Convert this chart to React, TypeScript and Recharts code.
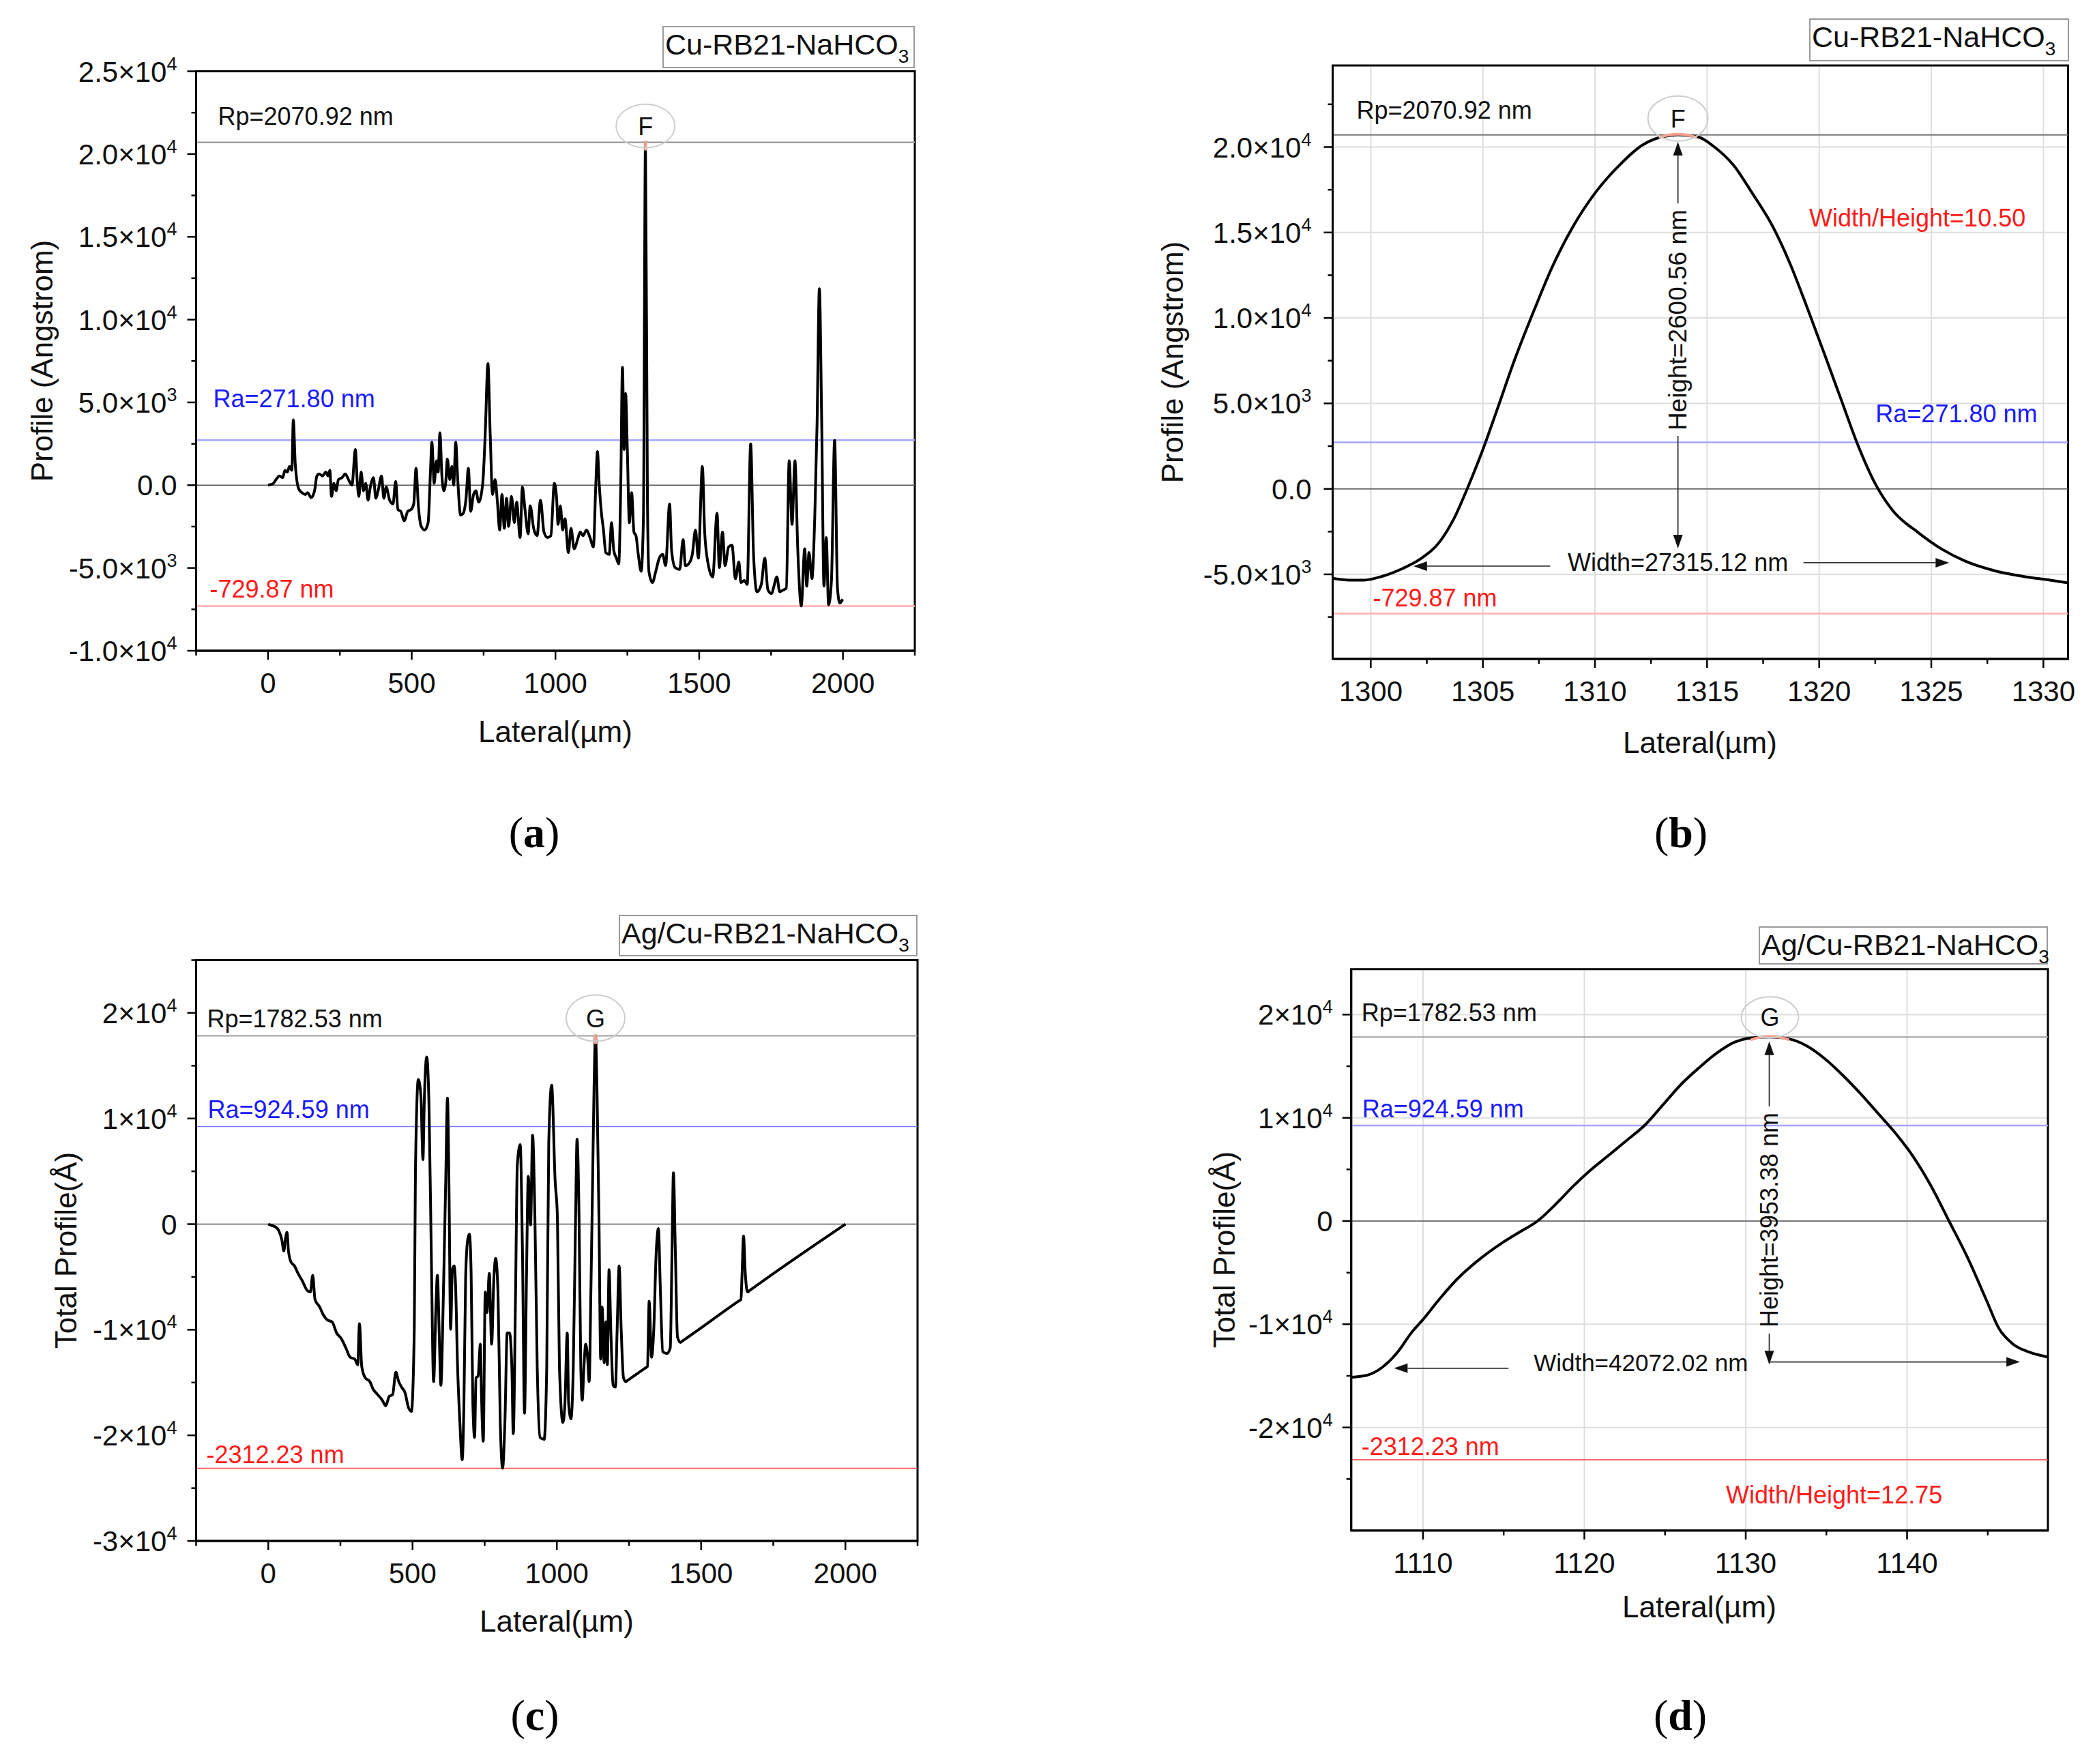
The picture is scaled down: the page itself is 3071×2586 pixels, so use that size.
import React from "react";
import {
  LineChart,
  Line,
  XAxis,
  YAxis,
  CartesianGrid,
  ReferenceLine,
  ReferenceDot,
  ReferenceArea,
} from "recharts";

const SANS = "'Liberation Sans', Arial, Helvetica, sans-serif";
const SERIF = "'Liberation Serif', 'Times New Roman', serif";

// (a) Cu-RB21-NaHCO3, full scan: lateral (µm) / profile (Å)
const LATERAL_A = [
  0, 16, 28, 40, 51, 59, 67, 75, 83, 88, 95, 107, 118, 130, 138, 150, 162, 170, 178, 190,
  201, 209, 215, 221, 229, 237, 245, 257, 269, 280, 292, 304, 310, 316, 324, 332, 340, 348, 356, 367,
  375, 383, 395, 403, 411, 423, 435, 444, 452, 462, 474, 486, 498, 507, 515, 523, 533, 545, 557, 565,
  570, 578, 586, 592, 598, 605, 612, 618, 624, 632, 640, 646, 653, 660, 670, 679, 689, 697, 705, 715,
  723, 733, 747, 756, 765, 773, 781, 790, 798, 806, 814, 822, 830, 837, 847, 857, 865, 877, 885, 894,
  905, 912, 924, 936, 948, 960, 972, 984, 996, 1004, 1009, 1017, 1025, 1033, 1045, 1054, 1065, 1077, 1086, 1096,
  1108, 1120, 1132, 1140, 1146, 1152, 1160, 1167, 1175, 1187, 1195, 1203, 1212, 1220, 1227, 1233, 1239, 1244, 1250, 1257,
  1265, 1273, 1280, 1288, 1298, 1306, 1313, 1320, 1325, 1337, 1349, 1361, 1373, 1383, 1397, 1404, 1416, 1432, 1444, 1452,
  1468, 1476, 1487, 1497, 1511, 1519, 1531, 1547, 1562, 1570, 1581, 1590, 1602, 1614, 1626, 1638, 1645, 1657, 1667, 1679,
  1689, 1701, 1716, 1728, 1739, 1752, 1760, 1770, 1780, 1792, 1803, 1813, 1823, 1833, 1843, 1855, 1867, 1874, 1882, 1892,
  1902, 1910, 1918, 1926, 1934, 1942, 1950, 1960, 1971, 1981, 1989, 1999,
];
const PROFILE_A = [
  0, 70, 340, 560, 450, 900, 790, 1130, 900, 3950, 1240, -230, -450, -560, -450, -750, -340, 560, 680, 560,
  790, 560, 900, -680, 110, -340, 340, 450, 680, 340, 0, 2150, 340, -680, 790, -340, 110, -900, -110, 450,
  -790, -340, 560, -790, -110, -900, -1130, 230, -1470, -1580, -2150, -1580, -1470, -1130, 1020, -1240, -2490, -2710, -2260, 790,
  2600, 110, 1470, 790, 3160, 560, -340, 110, 1580, 340, 1130, 0, 2600, 340, -1810, -1700, -790, 1020, -1580, -560,
  -340, -1020, 110, 3280, 7350, 3050, -560, 340, -1020, -2710, -560, -2600, -790, -2490, -680, -2260, -1020, -3160, -110, -1470,
  -2940, -1240, -2600, -3050, -900, -2830, -3160, -3050, 110, -790, -2370, -1240, -2710, -2030, -4070, -2600, -3840, -3280, -2830, -3050,
  -2710, -3160, -3730, -110, 2030, 110, -1700, -2710, -4070, -4180, -2260, -3960, -4410, -4750, -110, 7120, 2150, 5540, 2150, -2260,
  -450, -2830, -3050, -4180, -5200, -1920, 20709.2, -1000, -5200, -5880, -5200, -4410, -4180, -4860, -1130, -3960, -4970, -5090, -3280, -4860,
  -4630, -4180, -2710, -4410, 1130, -2830, -4750, -5540, -1700, -4970, -2830, -4860, -3730, -3620, -5650, -4630, -5880, -5760, -5990, 2490,
  -4180, -6440, -5990, -4410, -6330, -6550, -6100, -5540, -6440, -6330, -6220, 1470, -2370, 1470, -3960, -7298.7, -3840, -6100, -4070, -5650,
  -1920, 3730, 11870, 3960, -6100, -3160, -7230, -5760, 2710, -6220, -7120, -6890,
];

// (b) peak F, zoomed
const LATERAL_B = [
  1298.3, 1299.05, 1299.7, 1300.5, 1301.4, 1302.2, 1303.1, 1303.8, 1304.3, 1305.0, 1305.6, 1306.4, 1307.3,
  1308.1, 1309.0, 1310.0, 1311.1, 1312.1, 1313.0, 1313.7, 1314.6, 1315.3, 1316.2, 1317.0, 1317.9, 1318.7,
  1319.5, 1320.4, 1321.0, 1321.7, 1322.5, 1323.3, 1324.4, 1325.5, 1326.5, 1327.8, 1329.1, 1330.3, 1331.1,
];
const PROFILE_B = [
  -5230, -5340, -5340, -5120, -4670, -4110, -3050, -1500, 0, 2300, 4500, 7500, 10500,
  13000, 15300, 17300, 18950, 20100, 20600, 20709.2, 20590, 20030, 18900, 17330, 15420, 13180,
  10480, 7300, 5150, 2650, 300, -1300, -2540, -3550, -4220, -4780, -5120, -5340, -5500,
];

// (c) Ag/Cu-RB21-NaHCO3, full scan
const LATERAL_C = [
  0, 12, 24, 36, 47, 54, 59, 65, 70, 79, 91, 103, 118, 134, 146, 154, 162, 178, 190, 205,
  221, 237, 253, 269, 284, 300, 310, 316, 324, 336, 352, 363, 379, 395, 407, 419, 431, 442, 452, 462,
  474, 486, 496, 506, 510, 520, 529, 536, 541, 549, 557, 565, 573, 581, 586, 593, 598, 607, 615, 621,
  626, 632, 638, 644, 649, 656, 664, 672, 678, 684, 691, 697, 703, 709, 715, 720, 727, 735, 739, 745,
  752, 758, 766, 774, 782, 788, 796, 804, 812, 820, 828, 836, 844, 849, 857, 863, 873, 881, 888, 895,
  901, 909, 916, 924, 932, 942, 956, 965, 972, 982, 994, 1002, 1009, 1021, 1028, 1036, 1041, 1049, 1057, 1065,
  1070, 1077, 1083, 1088, 1094, 1100, 1107, 1112, 1118, 1124, 1129, 1134, 1139, 1146, 1152, 1157, 1164, 1170, 1175, 1181,
  1187, 1195, 1203, 1209, 1216, 1223, 1231, 1239, 1246, 1308, 1314, 1320, 1328, 1336, 1344, 1352, 1359, 1367, 1381, 1393,
  1399, 1404, 1411, 1418, 1428, 1436, 1630, 1638, 1642, 1647, 1653, 1661, 1668, 2000,
];
const PROFILE_C = [
  0, -140, -250, -600, -1480, -2540, -1480, -780, -2540, -3600, -3960, -4660, -5370, -6250, -6430, -4840, -7140, -7840, -8550, -9080,
  -9250, -10310, -10840, -11730, -12610, -12790, -13320, -9430, -13490, -14550, -14910, -15610, -16140, -16670, -17200, -16320, -16140, -14020, -14910, -15440,
  -15970, -17380, -17730, -9960, 5000, 13700, 12120, 6110, 11940, 15820, 11230, -2900, -14910, -7840, -4840, -11020, -15260, -6430, 4170, 11940,
  4170, -9960, -4310, -3960, -5720, -13490, -18790, -22320, -17020, -5020, -1480, -950, -4660, -17020, -20200, -14550, -14380, -11370, -16320, -20560,
  -6430, -8370, -4660, -11370, -5020, -3250, -6430, -18790, -23122.3, -18790, -10310, -10310, -13490, -19850, -6430, 5580, 7520, -2900, -17910, -4660,
  4520, -70, 8410, 640, -13490, -20200, -20380, -13490, 7700, 13170, 4170, 640, -13490, -18790, -17020, -10310, -17020, -18440, -13490, 640,
  8050, 640, -13490, -16670, -13490, -11370, -12790, -14910, -6430, 4170, 13000, 17825.3, 13000, 640, -12790, -7840, -13140, -9250, -13320, -4310,
  -9960, -15260, -15440, -9960, -3960, -9960, -14550, -14910, -14780, -13600, -13490, -7310, -12610, -9960, -2900, -420, -6430, -12080, -12260, -11730,
  -2900, 4870, -2900, -10670, -11200, -11050, -7290, -7140, -4660, -1130, -4660, -6430, -6290, 0,
];

// (d) peak G, zoomed
const LATERAL_D = [
  1105.56, 1106.5, 1107.5, 1108.5, 1109.3, 1110.0, 1111.0, 1112.1, 1113.5, 1114.9, 1116.0, 1117.1, 1118.2, 1119.3,
  1120.4, 1121.5, 1122.6, 1123.8, 1124.9, 1126.0, 1127.1, 1128.2, 1129.3, 1130.4, 1131.5, 1132.6, 1133.8, 1134.9,
  1136.0, 1137.1, 1138.2, 1139.3, 1140.4, 1141.5, 1142.6, 1143.8, 1144.9, 1145.7, 1146.5, 1147.6, 1148.73,
];
const PROFILE_D = [
  -15130, -14950, -14140, -12550, -10780, -9540, -7600, -5650, -3710, -2120, -1060, 0, 1590, 3360,
  4950, 6360, 7780, 9370, 11310, 13250, 14840, 16260, 17320, 17750, 17825.3, 17670, 16960, 15730,
  14140, 12370, 10430, 8480, 6190, 3360, 0, -3710, -7600, -10430, -11840, -12720, -13180,
];

// reference levels in Å (labels give nm)
const RP_CU = 20709.2; // Rp = 2070.92 nm
const RA_CU = 2718.0; // Ra = 271.80 nm
const LOW_CU = -7298.7; // -729.87 nm
const RP_AG = 17825.3; // Rp = 1782.53 nm
const RA_AG = 9245.9; // Ra = 924.59 nm
const LOW_AG = -23122.3; // -2312.23 nm

// ticks
const FULL_X_MAJOR = [0, 500, 1000, 1500, 2000];
const FULL_X_MINOR = [-250, 250, 750, 1250, 1750, 2250];
const A_Y_MAJOR = [-10000, -5000, 0, 5000, 10000, 15000, 20000, 25000];
const A_Y_MINOR = [-7500, -2500, 2500, 7500, 12500, 17500, 22500];
const B_X_MAJOR = [1300, 1305, 1310, 1315, 1320, 1325, 1330];
const B_X_MINOR = [1302.5, 1307.5, 1312.5, 1317.5, 1322.5, 1327.5];
const B_Y_MAJOR = [-5000, 0, 5000, 10000, 15000, 20000];
const B_Y_MINOR = [-7500, -2500, 2500, 7500, 12500, 17500, 22500];
const C_Y_MAJOR = [-30000, -20000, -10000, 0, 10000, 20000];
const C_Y_MINOR = [-25000, -15000, -5000, 5000, 15000, 25000];
const D_X_MAJOR = [1110, 1120, 1130, 1140];
const D_X_MINOR = [1115, 1125, 1135, 1145];
const D_Y_MAJOR = [-20000, -10000, 0, 10000, 20000];
const D_Y_MINOR = [-25000, -15000, -5000, 5000, 15000];

const toRows = (xs: number[], ys: number[]) => xs.map((x, i) => ({ x, y: ys[i] }));

function sci(v: number, decimals: number) {
  if (v === 0) return { base: (0).toFixed(decimals), exp: "" };
  const exp = Math.floor(Math.log10(Math.abs(v)) + 1e-9);
  const m = v / Math.pow(10, exp);
  return { base: `${m.toFixed(decimals)}×10`, exp: String(exp) };
}

const YTick = (props: any) => {
  const { x, y, payload, majors, decimals, gap } = props;
  const v = payload.value;
  const major = majors.includes(v);
  const { base, exp } = sci(v, decimals);
  return (
    <g>
      <line x1={x} y1={y} x2={x - (major ? 13 : 7)} y2={y} stroke="#000" strokeWidth={2.5} />
      {major && (
        <text x={x - gap} y={y + 15} textAnchor="end" fontSize={42} fontFamily={SANS} fill="#111">
          {base}
          {exp && (
            <tspan dy={-17} fontSize={27}>
              {exp}
            </tspan>
          )}
        </text>
      )}
    </g>
  );
};

const XTick = (props: any) => {
  const { x, y, payload, majors } = props;
  const v = payload.value;
  const major = majors.includes(v);
  return (
    <g>
      <line x1={x} y1={y} x2={x} y2={y + (major ? 13 : 7)} stroke="#000" strokeWidth={2.5} />
      {major && (
        <text x={x} y={y + 62} textAnchor="middle" fontSize={42} fontFamily={SANS} fill="#111">
          {v}
        </text>
      )}
    </g>
  );
};

// text placed relative to a reference line
const LineNote = (props: any) => {
  const { viewBox, text, ox = 0, oy = 0, color = "#111", anchor = "start" } = props;
  if (!viewBox) return null;
  const x = anchor === "end" ? viewBox.x + viewBox.width + ox : viewBox.x + ox;
  return (
    <text x={x} y={viewBox.y + oy} fill={color} fontSize={36} fontFamily={SANS} textAnchor={anchor}>
      {text}
    </text>
  );
};

const Arrow = (props: any) => {
  const x1 = Number(props.x1);
  const y1 = Number(props.y1);
  const x2 = Number(props.x2);
  const y2 = Number(props.y2);
  const ang = Math.atan2(y2 - y1, x2 - x1);
  const len = 20;
  const half = 7;
  const bx = x2 - len * Math.cos(ang);
  const by = y2 - len * Math.sin(ang);
  const px = -Math.sin(ang) * half;
  const py = Math.cos(ang) * half;
  return (
    <g>
      <line x1={x1} y1={y1} x2={bx} y2={by} stroke="#333" strokeWidth={1.8} />
      <polygon points={`${x2},${y2} ${bx + px},${by + py} ${bx - px},${by - py}`} fill="#111" />
    </g>
  );
};

const PeakMark = ({ cx, cy, letter, rx, ry, lift, wide }: any) => (
  <g>
    {wide ? (
      <path
        d={`M${cx - 28},${cy + 4} Q${cx},${cy - 6} ${cx + 28},${cy + 4}`}
        stroke="#f5a090"
        strokeWidth={4}
        fill="none"
      />
    ) : (
      <line x1={cx} y1={cy - 2} x2={cx} y2={cy + 12} stroke="#f5a090" strokeWidth={4} />
    )}
    <ellipse cx={cx} cy={cy - lift} rx={rx} ry={ry} fill="none" stroke="#cdcdcd" strokeWidth={2} />
    <text x={cx} y={cy - lift + 13} textAnchor="middle" fontSize={36} fontFamily={SANS} fill="#111">
      {letter}
    </text>
  </g>
);

const VerticalNote = ({ cx, cy, text, size }: any) => (
  <text
    x={cx}
    y={cy}
    transform={`rotate(-90 ${cx} ${cy})`}
    textAnchor="middle"
    dominantBaseline="central"
    fontSize={size}
    fontFamily={SANS}
    fill="#111"
  >
    {text}
  </text>
);

const CenterNote = ({ cx, cy, text, size }: any) => (
  <text x={cx} y={cy + 13} textAnchor="middle" fontSize={size} fontFamily={SANS} fill="#111">
    {text}
  </text>
);

type PanelProps = {
  left: number;
  top: number;
  width: number;
  height: number;
  margin: { top: number; right: number; bottom: number; left: number };
  yAxisWidth: number;
  xAxisHeight: number;
  data: { x: number; y: number }[];
  xDomain: [number, number];
  yDomain: [number, number];
  xMajor: number[];
  xMinor: number[];
  yMajor: number[];
  yMinor: number[];
  decimals: number;
  gap: number;
  grid?: { x: number[]; y: number[] };
  children?: React.ReactNode;
  front?: React.ReactNode;
};

function ProfilePanel(p: PanelProps) {
  const xTicks = [...p.xMajor, ...p.xMinor].sort((a, b) => a - b);
  const yTicks = [...p.yMajor, ...p.yMinor].sort((a, b) => a - b);
  return (
    <div style={{ position: "absolute", left: p.left, top: p.top, width: p.width, height: p.height }}>
      <LineChart width={p.width} height={p.height} data={p.data} margin={p.margin}>
        {p.grid && (
          <CartesianGrid
            stroke="#dedede"
            strokeWidth={2}
            horizontalValues={p.grid.y}
            verticalValues={p.grid.x}
          />
        )}
        <XAxis
          type="number"
          dataKey="x"
          domain={p.xDomain}
          allowDataOverflow
          ticks={xTicks}
          interval={0}
          height={p.xAxisHeight}
          tickSize={0}
          tickMargin={0}
          tickLine={false}
          axisLine={{ stroke: "#000", strokeWidth: 3 }}
          tick={(t: any) => <XTick {...t} majors={p.xMajor} />}
        />
        <YAxis
          type="number"
          domain={p.yDomain}
          allowDataOverflow
          ticks={yTicks}
          interval={0}
          width={p.yAxisWidth}
          tickSize={0}
          tickMargin={0}
          tickLine={false}
          axisLine={{ stroke: "#000", strokeWidth: 3 }}
          tick={(t: any) => <YTick {...t} majors={p.yMajor} decimals={p.decimals} gap={p.gap} />}
        />
        <ReferenceLine y={0} stroke="#555" strokeWidth={1.5} />
        {p.children}
        <Line
          type="monotone"
          dataKey="y"
          stroke="#000"
          strokeWidth={4}
          dot={false}
          isAnimationActive={false}
        />
        {p.front}
        <ReferenceArea
          x1={p.xDomain[0]}
          x2={p.xDomain[1]}
          y1={p.yDomain[0]}
          y2={p.yDomain[1]}
          fill="none"
          fillOpacity={0}
          stroke="#000"
          strokeWidth={3}
        />
      </LineChart>
    </div>
  );
}

const TitleBox = ({ x, y, w, h, main }: any) => (
  <g>
    <rect x={x} y={y} width={w} height={h} fill="#fff" stroke="#9a9a9a" strokeWidth={2} />
    <text x={x + 3} y={y + 41} fontSize={43} fontFamily={SANS} fill="#111">
      {main}
      <tspan dy={12} fontSize={28}>
        3
      </tspan>
    </text>
  </g>
);

const PanelTag = ({ x, y, tag }: any) => (
  <text x={x} y={y} textAnchor="middle" fontSize={64} fontFamily={SERIF} fill="#000">
    (<tspan fontWeight="bold">{tag}</tspan>)
  </text>
);

const AxisTitle = ({ x, y, text, vertical }: any) =>
  vertical ? (
    <text
      x={x}
      y={y}
      transform={`rotate(-90 ${x} ${y})`}
      textAnchor="middle"
      dominantBaseline="central"
      fontSize={44}
      fontFamily={SANS}
      fill="#111"
    >
      {text}
    </text>
  ) : (
    <text x={x} y={y} textAnchor="middle" fontSize={44} fontFamily={SANS} fill="#111">
      {text}
    </text>
  );

export default function App() {
  const dataA = toRows(LATERAL_A, PROFILE_A);
  const dataB = toRows(LATERAL_B, PROFILE_B);
  const dataC = toRows(LATERAL_C, PROFILE_C);
  const dataD = toRows(LATERAL_D, PROFILE_D);

  return (
    <div
      style={{
        position: "absolute",
        left: 0,
        top: 0,
        width: 3071,
        height: 2586,
        background: "#fff",
        overflow: "hidden",
      }}
    >
      {/* (a) */}
      <ProfilePanel
        left={0}
        top={0}
        width={1400}
        height={1150}
        margin={{ top: 104.5, right: 59, bottom: 0, left: 0 }}
        yAxisWidth={287.5}
        xAxisHeight={196}
        data={dataA}
        xDomain={[-250, 2250]}
        yDomain={[-10000, 25000]}
        xMajor={FULL_X_MAJOR}
        xMinor={FULL_X_MINOR}
        yMajor={A_Y_MAJOR}
        yMinor={A_Y_MINOR}
        decimals={1}
        gap={28}
        front={[
          <ReferenceDot
            key="pk"
            x={1313}
            y={RP_CU}
            r={0}
            shape={(d: any) => <PeakMark cx={d.cx} cy={d.cy} letter="F" rx={43} ry={32} lift={24} />}
          />,
        ]}
      >
        <ReferenceLine
          y={RP_CU}
          stroke="#a0a0a0"
          strokeWidth={2.5}
          label={<LineNote text="Rp=2070.92 nm" ox={32} oy={-26} />}
        />
        <ReferenceLine
          y={RA_CU}
          stroke="#a4a4ff"
          strokeWidth={2.5}
          label={<LineNote text="Ra=271.80 nm" ox={25} oy={-48} color="#1a1aff" />}
        />
        <ReferenceLine
          y={LOW_CU}
          stroke="#ffb0b0"
          strokeWidth={2.5}
          label={<LineNote text="-729.87 nm" ox={20} oy={-12} color="#ff1a1a" />}
        />
      </ProfilePanel>

      {/* (b) */}
      <ProfilePanel
        left={1650}
        top={0}
        width={1421}
        height={1150}
        margin={{ top: 96, right: 39.5, bottom: 0, left: 0 }}
        yAxisWidth={303.5}
        xAxisHeight={184}
        data={dataB}
        xDomain={[1298.3, 1331.1]}
        yDomain={[-9950, 24770]}
        xMajor={B_X_MAJOR}
        xMinor={B_X_MINOR}
        yMajor={B_Y_MAJOR}
        yMinor={B_Y_MINOR}
        decimals={1}
        gap={31}
        grid={{ x: B_X_MAJOR, y: B_Y_MAJOR }}
        front={[
          <ReferenceDot
            key="pk"
            x={1313.7}
            y={RP_CU}
            r={0}
            shape={(d: any) => <PeakMark cx={d.cx} cy={d.cy} letter="F" rx={44} ry={33} lift={24} wide />}
          />,
          <ReferenceLine key="h1" segment={[{ x: 1313.7, y: 16700 }, { x: 1313.7, y: 20300 }]} shape={Arrow} />,
          <ReferenceLine key="h2" segment={[{ x: 1313.7, y: 3100 }, { x: 1313.7, y: -3480 }]} shape={Arrow} />,
          <ReferenceDot
            key="ht"
            x={1313.7}
            y={9880}
            r={0}
            shape={(d: any) => <VerticalNote cx={d.cx} cy={d.cy} text="Height=2600.56 nm" size={37} />}
          />,
          <ReferenceLine key="w1" segment={[{ x: 1308.0, y: -4520 }, { x: 1301.9, y: -4520 }]} shape={Arrow} />,
          <ReferenceLine key="w2" segment={[{ x: 1319.3, y: -4320 }, { x: 1325.8, y: -4320 }]} shape={Arrow} />,
          <ReferenceDot
            key="wt"
            x={1313.7}
            y={-4300}
            r={0}
            shape={(d: any) => <CenterNote cx={d.cx} cy={d.cy} text="Width=27315.12 nm" size={36} />}
          />,
        ]}
      >
        <ReferenceLine
          y={RP_CU}
          stroke="#777"
          strokeWidth={2}
          label={<LineNote text="Rp=2070.92 nm" ox={35} oy={-24} />}
        />
        <ReferenceLine
          y={RA_CU}
          stroke="#a4a4ff"
          strokeWidth={2.5}
          label={<LineNote text="Ra=271.80 nm" ox={-45} oy={-30} color="#1a1aff" anchor="end" />}
        />
        <ReferenceLine
          y={LOW_CU}
          stroke="#ffb0b0"
          strokeWidth={2.5}
          label={<LineNote text="-729.87 nm" ox={59} oy={-11} color="#ff1a1a" />}
        />
      </ProfilePanel>

      {/* (c) */}
      <ProfilePanel
        left={0}
        top={1300}
        width={1400}
        height={1150}
        margin={{ top: 107.5, right: 55, bottom: 0, left: 0 }}
        yAxisWidth={287.5}
        xAxisHeight={191}
        data={dataC}
        xDomain={[-250, 2250]}
        yDomain={[-30000, 25000]}
        xMajor={FULL_X_MAJOR}
        xMinor={FULL_X_MINOR}
        yMajor={C_Y_MAJOR}
        yMinor={C_Y_MINOR}
        decimals={0}
        gap={28}
        front={[
          <ReferenceDot
            key="pk"
            x={1134}
            y={RP_AG}
            r={0}
            shape={(d: any) => <PeakMark cx={d.cx} cy={d.cy} letter="G" rx={43} ry={34} lift={26} />}
          />,
        ]}
      >
        <ReferenceLine
          y={RP_AG}
          stroke="#a0a0a0"
          strokeWidth={2}
          label={<LineNote text="Rp=1782.53 nm" ox={16} oy={-13} />}
        />
        <ReferenceLine
          y={RA_AG}
          stroke="#7a7aff"
          strokeWidth={1.5}
          label={<LineNote text="Ra=924.59 nm" ox={17} oy={-12} color="#1a1aff" />}
        />
        <ReferenceLine
          y={LOW_AG}
          stroke="#ff4a4a"
          strokeWidth={1.5}
          label={<LineNote text="-2312.23 nm" ox={15} oy={-8} color="#ff1a1a" />}
        />
      </ProfilePanel>

      {/* (d) */}
      <ProfilePanel
        left={1650}
        top={1300}
        width={1421}
        height={1150}
        margin={{ top: 120.8, right: 69, bottom: 0, left: 0 }}
        yAxisWidth={330.7}
        xAxisHeight={206.2}
        data={dataD}
        xDomain={[1105.55, 1148.73]}
        yDomain={[-29990, 24400]}
        xMajor={D_X_MAJOR}
        xMinor={D_X_MINOR}
        yMajor={D_Y_MAJOR}
        yMinor={D_Y_MINOR}
        decimals={0}
        gap={27}
        grid={{ x: D_X_MAJOR, y: D_Y_MAJOR }}
        front={[
          <ReferenceDot
            key="pk"
            x={1131.5}
            y={RP_AG}
            r={0}
            shape={(d: any) => <PeakMark cx={d.cx} cy={d.cy} letter="G" rx={42} ry={30} lift={29} wide />}
          />,
          <ReferenceLine key="h1" segment={[{ x: 1131.46, y: 11100 }, { x: 1131.46, y: 17400 }]} shape={Arrow} />,
          <ReferenceLine key="h2" segment={[{ x: 1131.46, y: -10900 }, { x: 1131.46, y: -13900 }]} shape={Arrow} />,
          <ReferenceDot
            key="ht"
            x={1131.46}
            y={100}
            r={0}
            shape={(d: any) => <VerticalNote cx={d.cx} cy={d.cy} text="Height=3953.38 nm" size={36} />}
          />,
          <ReferenceLine key="w1" segment={[{ x: 1115.3, y: -14260 }, { x: 1108.2, y: -14260 }]} shape={Arrow} />,
          <ReferenceLine key="w2" segment={[{ x: 1131.4, y: -13650 }, { x: 1147.0, y: -13650 }]} shape={Arrow} />,
          <ReferenceDot
            key="wt"
            x={1123.5}
            y={-13700}
            r={0}
            shape={(d: any) => <CenterNote cx={d.cx} cy={d.cy} text="Width=42072.02 nm" size={35} />}
          />,
        ]}
      >
        <ReferenceLine
          y={RP_AG}
          stroke="#a0a0a0"
          strokeWidth={2}
          label={<LineNote text="Rp=1782.53 nm" ox={15} oy={-23} />}
        />
        <ReferenceLine
          y={RA_AG}
          stroke="#a4a4ff"
          strokeWidth={2.5}
          label={<LineNote text="Ra=924.59 nm" ox={16} oy={-12} color="#1a1aff" />}
        />
        <ReferenceLine
          y={LOW_AG}
          stroke="#ff3a3a"
          strokeWidth={1.5}
          label={<LineNote text="-2312.23 nm" ox={15} oy={-7} color="#ff1a1a" />}
        />
      </ProfilePanel>

      {/* titles, axis names and panel tags */}
      <svg
        width={3071}
        height={2586}
        style={{ position: "absolute", left: 0, top: 0, pointerEvents: "none" }}
      >
        <TitleBox x={972} y={39} w={368} h={60} main="Cu-RB21-NaHCO" />
        <TitleBox x={2653} y={28} w={379} h={61} main="Cu-RB21-NaHCO" />
        <TitleBox x={908} y={1342} w={436} h={59} main="Ag/Cu-RB21-NaHCO" />
        <TitleBox x={2579} y={1359} w={422} h={54} main="Ag/Cu-RB21-NaHCO" />

        <AxisTitle x={61} y={529} text="Profile (Angstrom)" vertical />
        <AxisTitle x={1718} y={531} text="Profile (Angstrom)" vertical />
        <AxisTitle x={96} y={1833} text="Total Profile(Å)" vertical />
        <AxisTitle x={1794} y={1832} text="Total Profile(Å)" vertical />

        <AxisTitle x={814} y={1088} text="Lateral(µm)" />
        <AxisTitle x={2492} y={1104} text="Lateral(µm)" />
        <AxisTitle x={816} y={2392} text="Lateral(µm)" />
        <AxisTitle x={2491} y={2371} text="Lateral(µm)" />

        <text x={2652} y={332} fontSize={36} fontFamily={SANS} fill="#ff1a1a">
          Width/Height=10.50
        </text>
        <text x={2530} y={2204} fontSize={36} fontFamily={SANS} fill="#ff1a1a">
          Width/Height=12.75
        </text>

        <PanelTag x={783} y={1242} tag="a" />
        <PanelTag x={2464} y={1242} tag="b" />
        <PanelTag x={784} y={2536} tag="c" />
        <PanelTag x={2463} y={2536} tag="d" />
      </svg>
    </div>
  );
}
